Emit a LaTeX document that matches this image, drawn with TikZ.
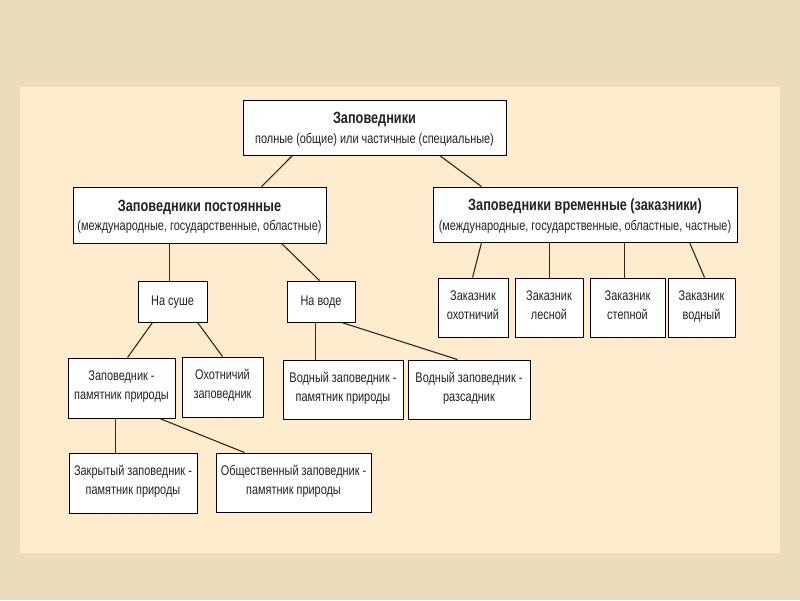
\documentclass[tikz,border=0pt]{standalone}
\usepackage{fontspec}
\setmainfont{Liberation Sans}[FakeStretch=0.78]
\usetikzlibrary{positioning}
\definecolor{outerbg}{RGB}{234,220,188}
\definecolor{panelbg}{RGB}{255,236,206}
\definecolor{linecol}{RGB}{48,38,28}
\definecolor{txt}{RGB}{35,35,35}
\tikzset{
  box/.style={draw=black, line width=0.9pt, fill=white, inner sep=0pt, align=center,
    text=txt, font=\fontsize{14}{19}\selectfont,
    execute at begin node=\strut, execute at end node=\strut},
  tbox/.style={draw=black, line width=0.9pt, fill=white, inner sep=0pt, align=center,
    text=txt, font=\fontsize{14}{19}\selectfont},
  conn/.style={draw=linecol, line width=1.1pt},
}
\newcommand{\ttlsub}[2]{\rule{0pt}{17.5pt}{\bfseries\fontsize{16.3}{19}\selectfont #1}\\[0.5pt]#2\rule[-5.5pt]{0pt}{5.5pt}}
\begin{document}
\begin{tikzpicture}[x=1pt,y=-1pt]
\fill[outerbg] (0,0) rectangle (800,600);
\useasboundingbox (0,0) rectangle (800,600);
\fill[panelbg] (20,87) rectangle (780,553);

% nodes
\node[tbox, minimum width=263, minimum height=55] (top) at (374.5,127.5)
  {\ttlsub{Заповедники}{полные (общие) или частичные (специальные)}};
\node[tbox, minimum width=253, minimum height=56] (perm) at (199.5,215)
  {\ttlsub{Заповедники постоянные}{(международные, государственные, областные)}};
\node[tbox, minimum width=304, minimum height=55] (temp) at (585,214.5)
  {\ttlsub{Заповедники временные (заказники)}{(международные, государственные, областные, частные)}};

\node[box, minimum width=69, minimum height=41] (land) at (172.5,301.5) {На суше};
\node[box, minimum width=68, minimum height=41] (water) at (321,301.5) {На воде};

\node[box, minimum width=70, minimum height=59] (z1) at (473,307.5) {Заказник\\охотничий};
\node[box, minimum width=68, minimum height=59] (z2) at (549,307.5) {Заказник\\лесной};
\node[box, minimum width=75, minimum height=59] (z3) at (627.5,307.5) {Заказник\\степной};
\node[box, minimum width=67, minimum height=59] (z4) at (701.5,307.5) {Заказник\\водный};

\node[box, minimum width=107, minimum height=60] (pm) at (121.5,388) {Заповедник -\\памятник природы};
\node[box, minimum width=81, minimum height=60] (hunt) at (222.5,387) {Охотничий\\заповедник};
\node[box, minimum width=120, minimum height=59] (wpm) at (343,389.5) {Водный заповедник -\\памятник природы};
\node[box, minimum width=122, minimum height=59] (wnurs) at (469,389.5) {Водный заповедник -\\разсадник};

\node[box, minimum width=128, minimum height=60] (closed) at (133,483) {Закрытый заповедник -\\памятник природы};
\node[box, minimum width=155, minimum height=59] (public) at (293.5,482.5) {Общественный заповедник -\\памятник природы};

% connectors
\draw[conn] ([xshift=50pt]top.south west) -- ([xshift=189pt]perm.north west);
\draw[conn] ([xshift=197pt]top.south west) -- ([xshift=49pt]temp.north west);
\draw[conn] ([xshift=97pt]perm.south west) -- ([xshift=32pt]land.north west);
\draw[conn] ([xshift=209pt]perm.south west) -- ([xshift=33pt]water.north west);
\draw[conn] ([xshift=49pt]temp.south west) -- ([xshift=35pt]z1.north west);
\draw[conn] ([xshift=117pt]temp.south west) -- ([xshift=35pt]z2.north west);
\draw[conn] ([xshift=192pt]temp.south west) -- ([xshift=35pt]z3.north west);
\draw[conn] ([xshift=257pt]temp.south west) -- ([xshift=37pt]z4.north west);
\draw[conn] ([xshift=15pt]land.south west) -- ([xshift=60pt]pm.north west);
\draw[conn] ([xshift=60pt]land.south west) -- ([xshift=41pt]hunt.north west);
\draw[conn] ([xshift=29pt]water.south west) -- ([xshift=33pt]wpm.north west);
\draw[conn] ([xshift=55pt]water.south west) -- ([xshift=50pt]wnurs.north west);
\draw[conn] ([xshift=48pt]pm.south west) -- ([xshift=47pt]closed.north west);
\draw[conn] ([xshift=92pt]pm.south west) -- ([xshift=29pt]public.north west);
\end{tikzpicture}
\end{document}
